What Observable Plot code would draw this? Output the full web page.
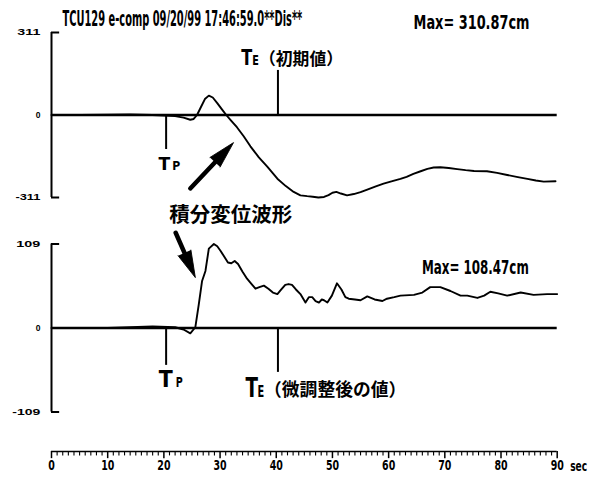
<!DOCTYPE html>
<html>
<head>
<meta charset="utf-8">
<script src="https://cdn.jsdelivr.net/npm/d3@7"></script>
<script src="https://cdn.jsdelivr.net/npm/@observablehq/plot@0.6"></script>
<style>
  html, body { margin: 0; padding: 0; background: #fff; }
  #chart { position: relative; width: 600px; height: 482px; background: #fff; overflow: hidden; }
</style>
</head>
<body>
<div id="chart"></div>
<script>
// ---------- data ----------
const timeTop = [0,5,10,14,18,20,22,23.5,24.7,25.3,25.9,26.6,27.3,28.0,28.7,29.5,30.3,31.1,32,33,34.2,35.4,36.9,38.4,40.2,41.7,43.1,44.3,45.5,46.5,47.5,48.5,49.3,50.0,50.7,51.5,52.6,53.8,55.0,56.2,57.6,59.1,60.5,62.1,63.2,64.4,65.7,66.9,68,69.2,70.7,72.2,73.7,75.2,77.5,79.3,81.1,83,84.7,86.2,87.6,89.7];
const dispTop = [0,0,1,2,0,-2,-4,-10,-18,-15,0,30,60,73,66,45,22,0,-22,-46,-80,-118,-160,-195,-240,-268,-290,-303,-306,-308,-311,-309,-302,-293,-290,-296,-303,-298,-291,-281,-270,-259,-250,-241,-233,-222,-212,-203,-198,-197,-200,-204,-208,-211,-212,-218,-226,-234,-241,-247,-251,-250];

const timeBot = [0,5,10,14,18,22,23.5,24.7,25.6,26.2,26.8,27.4,28.0,28.9,29.5,30.1,30.7,31.4,32.0,32.6,33.2,34.0,34.8,35.5,36.3,37.0,37.8,38.6,39.4,40.2,40.9,41.6,42.2,42.8,43.5,44.3,45.2,45.8,46.4,47.0,47.6,48.1,48.5,49.1,49.9,50.8,51.6,52.3,52.9,54.0,55.0,56.2,57.5,58.9,59.7,61.0,62.1,64.5,66.0,67.4,69.2,71.0,72.8,74.0,75.8,77.0,78.1,79.5,81.1,83.5,85.8,88.2,90];
const dispBot = [0,0,0,1,2,1,-2,-7,1,30,61,74,103,109,106,100,93,85,84,87,83,73,64,58,51,53,55,51,46,44,50,56,57,56,50,44,33,40,40,35,33,37,36,33,42,58,50,40,38,37,36,41,37,35,38,40,42,43,46,53,53,48,42,42,39,42,47,45,42,46,43,44,44];

const yTicksTop = [311, 0, -311];
const yTicksBot = [109, 0, -109];
const xMajor = d3.range(0, 91, 10);
const xMinor = d3.range(0, 91).filter(d => d % 10 !== 0);
const xDomain = [0, 90];

const titleText = "TCU129 e-comp 09/20/99 17:46:59.0**Dis**";
const maxTopText = "Max= 310.87cm";
const maxBotText = "Max= 108.47cm";
const waveLabel = "積分変位波形";
const teTopLabel = "（初期値）";
const teBotLabel = "（微調整後の値）";
const secLabel = "sec";

const tpTime = 20.4, teTime = 40.3;
const markersTop = [{t: tpTime, end: -130}, {t: teTime, end: 168}];
const markersBot = [{t: tpTime, end: -48.5}, {t: teTime, end: -57.6}];
const arrowTop = [{x1: 24.7, y1: -277, x2: 32.4, y2: -104}];
const arrowBot = [{x1: 22.1, y1: 123.6, x2: 25.6, y2: 65.4}];
const waveLabelPos = [{t: 31.9, v: -379}];

// ---------- layout / style ----------
const W = 600, H = 482, ML = 51, MR = 43.3;
const FONT_C = "'DejaVu Sans',sans-serif";          // squeezed horizontally below (condensed look)
const FONT_A = "'Liberation Sans',Arial,sans-serif";
const FONT_J = "'Noto Sans CJK JP','Noto Sans CJK SC',sans-serif";
const svgStyle = {background: "transparent", overflow: "visible", position: "absolute", left: "0px", top: "0px"};
const kx = (W - ML - MR) / (xDomain[1] - xDomain[0]);
const squeezeWidths = {};   // "text|fontSize" -> target width in px

function arrowAngle(a, ky) {
  const dxp = (a.x2 - a.x1) * kx;
  const dyp = -(a.y2 - a.y1) * ky;
  return Math.atan2(dxp, -dyp) * 180 / Math.PI;
}

function panel({top, bottom, ticks, data, markers, labels, arrows, extra}) {
  const max = d3.max(ticks);
  const ky = (bottom - top) / (2 * max);
  const marks = [
    Plot.ruleX([0], {y1: -max, y2: max, strokeWidth: 2}),
    Plot.ruleY([max, -max], {x1: 0, x2: 1.45, strokeWidth: 2}),
    Plot.text(ticks, {x: 0, y: d => d, text: d => String(d), textAnchor: "end", dx: -11, lineAnchor: "middle",
      fontSize: 8.5, fontWeight: "bold", fontFamily: FONT_A}),
    Plot.ruleY([0], {x1: xDomain[0], x2: xDomain[1], strokeWidth: 2.4}),
    Plot.line(data, {x: "t", y: "v", strokeWidth: 1.9, strokeLinejoin: "round"}),
    Plot.ruleX(markers, {x: "t", y1: 0, y2: "end", strokeWidth: 2})
  ];
  for (const L of labels) {
    if (L.w) squeezeWidths[L.text + "|" + L.size] = L.w;
    marks.push(Plot.text([markers[L.i]], {x: "t", y: "end", text: () => L.text, dx: L.dx, dy: L.dy,
      textAnchor: "start", lineAnchor: "bottom", fontSize: L.size,
      fontWeight: "bold", fontFamily: L.font}));
  }
  for (const a of arrows) {
    marks.push(Plot.arrow([a], {x1: "x1", y1: "y1", x2: "x2", y2: "y2", headLength: 0, insetEnd: 18, strokeWidth: 4.5}));
    marks.push(Plot.vector([a], {x: "x2", y: "y2", rotate: arrowAngle(a, ky), length: 27, anchor: "end",
      shape: "spike", r: 7, fill: "black", stroke: "black", strokeWidth: 0.8}));
  }
  marks.push(...extra);
  return Plot.plot({
    width: W, height: H,
    marginLeft: ML, marginRight: MR, marginTop: top, marginBottom: H - bottom,
    x: {domain: xDomain, axis: null},
    y: {domain: [-max, max], axis: null},
    style: svgStyle,
    marks
  });
}

const topData = timeTop.map((t, i) => ({t, v: dispTop[i]}));
const botData = timeBot.map((t, i) => ({t, v: dispBot[i]}));

const topSvg = panel({
  top: 32, bottom: 197, ticks: yTicksTop, data: topData, markers: markersTop,
  labels: [
    {i: 0, text: "T", dx: -7.6, dy: 21, size: 17.5, font: FONT_C, w: 11.7},
    {i: 0, text: "P", dx: 6.1, dy: 21, size: 11.5, font: FONT_C, w: 8},
    {i: 1, text: "T", dx: -36.7, dy: -5, size: 20.5, font: FONT_C, w: 11},
    {i: 1, text: "E", dx: -25.7, dy: -5, size: 13.7, font: FONT_C, w: 6.6},
    {i: 1, text: teTopLabel, dx: -18.9, dy: -5.5, size: 16.8, font: FONT_J}
  ],
  arrows: arrowTop,
  extra: [
    Plot.text([titleText], {text: d => d, frameAnchor: "top-left", dx: 11, dy: -13, textAnchor: "start",
      lineAnchor: "middle", fontSize: 21, fontWeight: "bold", fontFamily: FONT_C}),
    Plot.text([maxTopText], {text: d => d, frameAnchor: "top-right", dx: -27.7, dy: -10, textAnchor: "end",
      lineAnchor: "middle", fontSize: 20, fontWeight: "bold", fontFamily: FONT_C}),
    Plot.text(waveLabelPos, {x: "t", y: "v", text: () => waveLabel, textAnchor: "middle", lineAnchor: "middle",
      fontSize: 20.5, fontWeight: "bold", fontFamily: FONT_J})
  ]
});

const botSvg = panel({
  top: 243.5, bottom: 411.5, ticks: yTicksBot, data: botData, markers: markersBot,
  labels: [
    {i: 0, text: "T", dx: -7.3, dy: 21.7, size: 23, font: FONT_C, w: 14},
    {i: 0, text: "P", dx: 9.6, dy: 21.7, size: 13.7, font: FONT_C, w: 7},
    {i: 1, text: "T", dx: -32.4, dy: 24.7, size: 26, font: FONT_C, w: 12.5},
    {i: 1, text: "E", dx: -20.4, dy: 24.7, size: 16, font: FONT_C, w: 6.7},
    {i: 1, text: teBotLabel, dx: -13.9, dy: 23.5, size: 17.8, font: FONT_J}
  ],
  arrows: arrowBot,
  extra: [
    Plot.text([maxBotText], {text: d => d, frameAnchor: "top-right", dx: -28.4, dy: 23.2, textAnchor: "end",
      lineAnchor: "middle", fontSize: 20, fontWeight: "bold", fontFamily: FONT_C})
  ]
});

const rulerSvg = Plot.plot({
  width: W, height: H,
  marginLeft: ML, marginRight: MR, marginTop: 451, marginBottom: H - 462,
  x: {domain: xDomain, axis: null},
  y: {domain: [0, 1], axis: null},
  style: svgStyle,
  marks: [
    Plot.ruleY([1], {x1: xDomain[0], x2: xDomain[1], strokeWidth: 1.5}),
    Plot.ruleX(xMinor, {x: d => d, y1: 1, y2: 0.6, strokeWidth: 1.1}),
    Plot.ruleX(xMajor, {x: d => d, y1: 1, y2: 0.35, strokeWidth: 1.5}),
    Plot.text(xMajor, {x: d => d, y: 0, text: d => String(d), dy: 3, lineAnchor: "middle",
      fontSize: 14, fontWeight: "bold", fontFamily: FONT_C}),
    Plot.text([secLabel], {x: xDomain[1], y: 0, text: d => d, dx: 13, dy: 4, textAnchor: "start",
      lineAnchor: "middle", fontSize: 14, fontWeight: "bold", fontFamily: FONT_C})
  ]
});

const chart = document.getElementById("chart");
chart.append(topSvg, botSvg, rulerSvg);

// ---------- horizontal squeeze of texts to their reference widths (condensed type look) ----------
squeezeWidths[titleText + "|21"] = 240;
squeezeWidths[maxTopText + "|20"] = 116;
squeezeWidths[maxBotText + "|20"] = 107;
squeezeWidths[secLabel + "|14"] = 17;
for (const s of xMajor) squeezeWidths[String(s) + "|14"] = 6.6 * String(s).length;
squeezeWidths["311|8.5"] = 23; squeezeWidths["-311|8.5"] = 25;
squeezeWidths["109|8.5"] = 24; squeezeWidths["-109|8.5"] = 28;

function squeeze(t, target) {
  const len = t.getComputedTextLength();
  if (!len || !target) return;
  const sx = target / len;
  const bb = t.getBBox();
  const anchor = getComputedStyle(t).textAnchor;
  const ax = anchor === "end" ? bb.x + bb.width : anchor === "middle" ? bb.x + bb.width / 2 : bb.x;
  const tr = t.getAttribute("transform") || "";
  t.setAttribute("transform", `${tr} translate(${ax},0) scale(${sx},1) translate(${-ax},0)`);
}
for (const t of chart.querySelectorAll("text")) {
  const size = parseFloat(getComputedStyle(t).fontSize);
  const key = t.textContent + "|" + (Math.round(size * 10) / 10);
  if (key in squeezeWidths) squeeze(t, squeezeWidths[key]);
}
</script>
</body>
</html>
